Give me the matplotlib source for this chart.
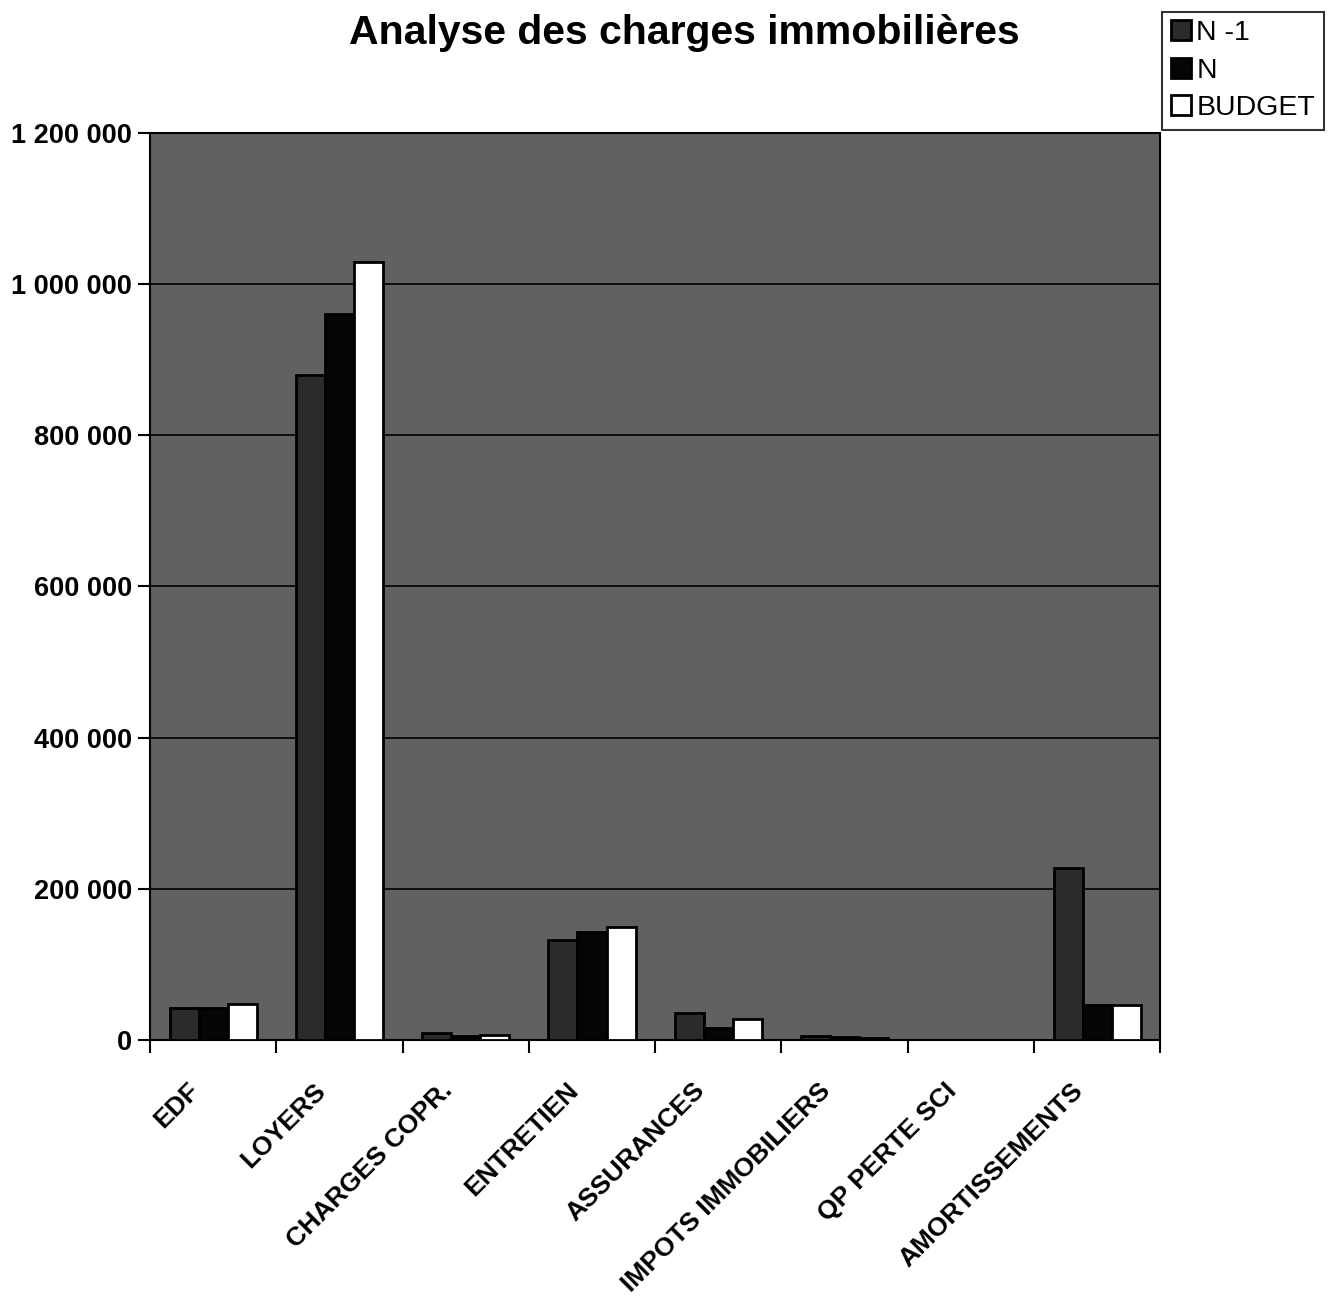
import numpy as np
import matplotlib
matplotlib.use("Agg")
import matplotlib.pyplot as plt
import matplotlib.transforms as mtransforms
from matplotlib.ticker import FuncFormatter, FixedLocator

plt.rcParams["font.family"] = ["Liberation Sans", "DejaVu Sans"]

# Données
categories = ["EDF", "LOYERS", "CHARGES COPR.", "ENTRETIEN", "ASSURANCES",
              "IMPOTS IMMOBILIERS", "QP PERTE SCI", "AMORTISSEMENTS"]
n_1 = [42000, 880000, 9000, 132000, 36000, 5000, 0, 228000]
n = [42000, 960000, 5000, 143000, 16000, 4000, 0, 46000]
budget = [48000, 1030000, 6000, 150000, 28000, 3000, 0, 46000]
series_names = ["N -1", "N", "BUDGET"]

fig = plt.figure(figsize=(13.29, 12.99), dpi=100, facecolor="white")
ax = fig.add_axes([0.1129, 0.1994, 0.7601, 0.6982])
ax.set_facecolor("#616161")

x = np.arange(len(categories))
w = 0.23
styles = [
    dict(color="#2b2b2b", edgecolor="black"),
    dict(color="#050505", edgecolor="black"),
    dict(color="white", edgecolor="black"),
]
for i, (vals, name, st) in enumerate(zip([n_1, n, budget], series_names, styles)):
    ax.bar(x + (i - 1) * w, vals, width=w, linewidth=2, label=name, zorder=3, **st)

ax.set_xlim(-0.5, len(categories) - 0.5)
ax.set_ylim(0, 1200000)
ax.set_yticks(np.arange(0, 1200001, 200000))
ax.yaxis.set_major_formatter(FuncFormatter(lambda v, p: f"{int(v):,}".replace(",", " ")))
ax.grid(axis="y", color="black", linewidth=1.2, zorder=1)
ax.set_axisbelow(True)

ax.set_xticks(x)
ax.set_xticklabels(categories, rotation=45, ha="right", rotation_mode="anchor",
                   fontsize=19, fontweight="bold")
ax.tick_params(axis="x", length=0, pad=14)
# décalage des étiquettes vers le bas/gauche comme dans Excel
offset = mtransforms.ScaledTranslation(-26 / 100, -19 / 100, fig.dpi_scale_trans)
for lab in ax.get_xticklabels():
    lab.set_transform(lab.get_transform() + offset)
ax.xaxis.set_minor_locator(FixedLocator(np.arange(-0.5, len(categories), 1)))
ax.tick_params(axis="x", which="minor", length=9, width=1.5, color="black")
ax.tick_params(axis="y", length=9, width=1.5, pad=4)
for lab in ax.get_yticklabels():
    lab.set_fontsize(19.5)
    lab.set_fontweight("bold")

for s in ax.spines.values():
    s.set_color("black")
    s.set_linewidth(1.5)

fig.text(0.515, 0.989, "Analyse des charges immobilières", ha="center", va="top",
         fontsize=29.5, fontweight="bold")

leg = fig.legend(loc="upper right", bbox_to_anchor=(0.996, 0.991), fontsize=20.5,
                 frameon=True, fancybox=False, edgecolor="black",
                 handlelength=0.7, handleheight=0.7, handletextpad=0.2,
                 borderpad=0.3, labelspacing=0.4, borderaxespad=0)
leg.get_frame().set_linewidth(1.5)

fig.savefig("out.png", dpi=100, facecolor="white")
